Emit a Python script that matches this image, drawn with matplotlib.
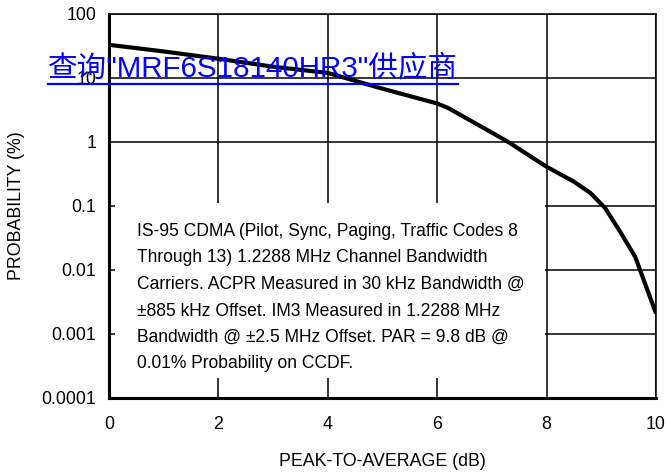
import matplotlib
matplotlib.use("Agg")
import matplotlib.pyplot as plt
from matplotlib.patches import Rectangle
from matplotlib.lines import Line2D

# ---- data ----
x_db = [0, 1, 2, 3, 4, 5, 6, 6.2, 7, 7.3, 7.7, 8, 8.5, 8.8, 9.07, 9.35, 9.62, 10]
prob = [33, 26, 20, 15, 12, 6.8, 4.0, 3.4, 1.4, 1.0, 0.6, 0.41, 0.24, 0.16, 0.093, 0.039, 0.016, 0.0021]
x_ticks = [0, 2, 4, 6, 8, 10]
y_ticks = [0.0001, 0.001, 0.01, 0.1, 1, 10, 100]
y_tick_labels = ["0.0001", "0.001", "0.01", "0.1", "1", "10", "100"]
note_lines = [
    "IS-95 CDMA (Pilot, Sync, Paging, Traffic Codes 8",
    "Through 13) 1.2288 MHz Channel Bandwidth",
    "Carriers. ACPR Measured in 30 kHz Bandwidth @",
    "\u00b1885 kHz Offset. IM3 Measured in 1.2288 MHz",
    "Bandwidth @ \u00b12.5 MHz Offset. PAR = 9.8 dB @",
    "0.01% Probability on CCDF.",
]
watermark = "查询\"MRF6S18140HR3\"供应商"

FONT = ["Liberation Sans", "DejaVu Sans"]
plt.rcParams["font.family"] = FONT

W, H = 668, 474
fig = plt.figure(figsize=(W / 100, H / 100), dpi=100)
L, R, T, B = 109, 656, 14, 398
ax = fig.add_axes([L / W, (H - B) / H, (R - L) / W, (B - T) / H])

ax.set_yscale("log")
ax.set_xlim(0, 10)
ax.set_ylim(0.0001, 100)
ax.set_xticks(x_ticks)
ax.set_xticklabels([str(v) for v in x_ticks])
ax.set_yticks(y_ticks)
ax.set_yticklabels(y_tick_labels)
ax.minorticks_off()
ax.grid(True, color="black", linewidth=1.1, zorder=1)
ax.tick_params(axis="both", length=0, labelsize=12.8)
ax.tick_params(axis="y", pad=9)
ax.tick_params(axis="x", pad=13)

for s in ["left", "bottom"]:
    ax.spines[s].set_linewidth(2.2)
for s in ["top", "right"]:
    ax.spines[s].set_linewidth(1.1)

ax.plot(x_db, prob, color="black", linewidth=3.0, zorder=3, solid_capstyle="butt",
        solid_joinstyle="round")

def ax_y(py):
    return (B - py) / (B - T)

def ax_x(px):
    return (px - L) / (R - L)

ax.add_patch(Rectangle((ax_x(115), ax_y(378)), ax_x(545) - ax_x(115), ax_y(203) - ax_y(378),
                       transform=ax.transAxes, facecolor="white", edgecolor="none", zorder=2))
for i, line in enumerate(note_lines):
    ax.text(ax_x(137), ax_y(236 + 26.5 * i), line, transform=ax.transAxes,
            fontsize=12.65, ha="left", va="baseline", zorder=4)

ax.set_xlabel("PEAK-TO-AVERAGE (dB)", fontsize=12.8, labelpad=14)
ax.set_ylabel("PROBABILITY (%)", fontsize=12.8, labelpad=12)

# watermark link
wm = fig.text(48 / W, (H - 76) / H, watermark, color="#0000ff", fontsize=21.3,
              family=["Liberation Sans", "Noto Sans CJK SC", "DejaVu Sans"],
              ha="left", va="baseline", zorder=10)
fig.canvas.draw()
bb = wm.get_window_extent()
fig.add_artist(Line2D([bb.x0 / W, bb.x1 / W], [(H - 84) / H, (H - 84) / H],
                      transform=fig.transFigure, color="#0000ff", linewidth=1.6, zorder=10))

fig.savefig("out.png", dpi=100)
